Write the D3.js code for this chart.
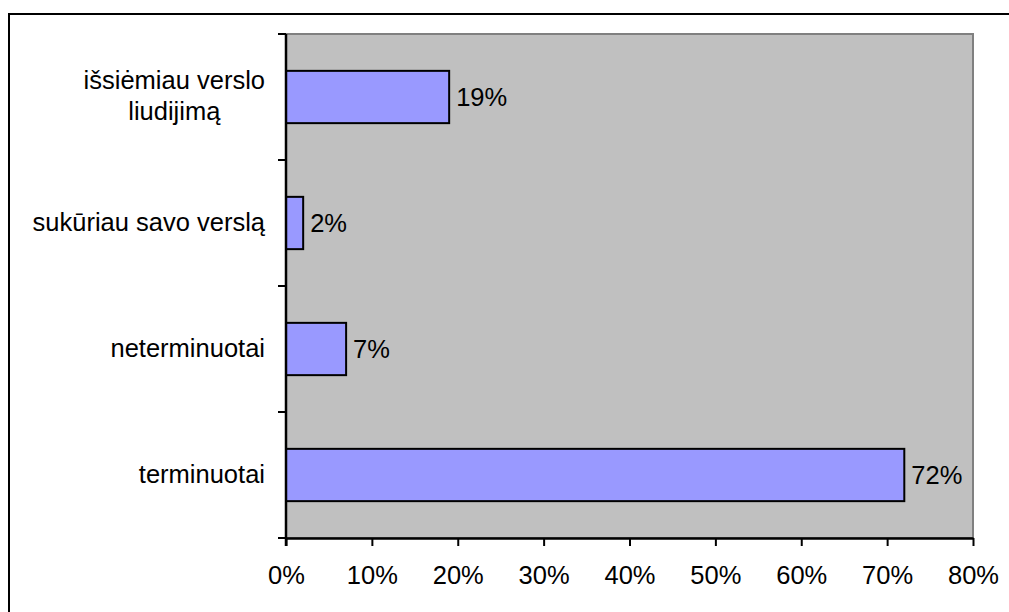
<!DOCTYPE html>
<html>
<head>
<meta charset="utf-8">
<script src="https://cdn.jsdelivr.net/npm/d3@7"></script>
<style>
  html, body { margin: 0; padding: 0; background: #fff; }
  svg { display: block; }
  text { font-family: "Liberation Sans", Arial, sans-serif; fill: #000; }
</style>
</head>
<body>
<svg id="chart" width="1009" height="612"></svg>
<script>
const categories = ["išsiėmiau verslo liudijimą", "sukūriau savo verslą", "neterminuotai", "terminuotai"];
const categoryLines = [["išsiėmiau verslo", "liudijimą"], ["sukūriau savo verslą"], ["neterminuotai"], ["terminuotai"]];
const values = [0.19, 0.02, 0.07, 0.72];
const valueLabels = ["19%", "2%", "7%", "72%"];
const xTicks = [0, 0.1, 0.2, 0.3, 0.4, 0.5, 0.6, 0.7, 0.8];

const svg = d3.select("#chart");
const W = 1009, H = 612;
const plot = { left: 286, right: 973, top: 34, bottom: 538 };
const fontSize = 25.5;

// outer chart border
svg.append("rect")
  .attr("x", 9).attr("y", 14)
  .attr("width", W + 10).attr("height", H + 10)
  .attr("fill", "#fff").attr("stroke", "#000").attr("stroke-width", 2);

const x = d3.scaleLinear().domain([0, 0.8]).range([plot.left, plot.right]);
const y = d3.scaleBand().domain(categories).range([plot.top, plot.bottom])
  .paddingInner(0.585).paddingOuter(0.2925);

// plot area
svg.append("rect")
  .attr("x", plot.left).attr("y", plot.top)
  .attr("width", plot.right - plot.left).attr("height", plot.bottom - plot.top)
  .attr("fill", "#C0C0C0").attr("stroke", "#808080").attr("stroke-width", 2);

// bars
svg.append("g").selectAll("rect").data(values).join("rect")
  .attr("x", x(0))
  .attr("y", (d, i) => y(categories[i]))
  .attr("width", d => x(d) - x(0))
  .attr("height", y.bandwidth())
  .attr("fill", "#9999FF")
  .attr("stroke", "#000").attr("stroke-width", 2);

// value labels
svg.append("g").selectAll("text").data(values).join("text")
  .attr("x", d => x(d) + 7)
  .attr("y", (d, i) => y(categories[i]) + y.bandwidth() / 2)
  .attr("dy", "0.35em")
  .attr("font-size", fontSize)
  .text((d, i) => valueLabels[i]);

// x axis
const xAxis = d3.axisBottom(x).tickValues(xTicks).tickFormat(d3.format(".0%"))
  .tickSize(8).tickSizeOuter(0).tickPadding(20);
const gx = svg.append("g").attr("transform", `translate(0,${plot.bottom})`).call(xAxis);
gx.select(".domain").attr("stroke", "#000").attr("stroke-width", 2.5);
gx.selectAll(".tick line").attr("stroke", "#000").attr("stroke-width", 2);
gx.selectAll(".tick text").attr("font-size", fontSize)
  .attr("font-family", '"Liberation Sans", Arial, sans-serif').attr("fill", "#000");

// y axis: line + ticks at band boundaries
const yAxisG = svg.append("g");
yAxisG.append("line")
  .attr("x1", plot.left).attr("x2", plot.left)
  .attr("y1", plot.top).attr("y2", plot.bottom + 8)
  .attr("stroke", "#000").attr("stroke-width", 2.5);
const boundaries = d3.range(categories.length + 1).map(i => plot.top + i * (plot.bottom - plot.top) / categories.length);
yAxisG.selectAll("line.t").data(boundaries).join("line").attr("class", "t")
  .attr("x1", plot.left - 8).attr("x2", plot.left)
  .attr("y1", d => d).attr("y2", d => d)
  .attr("stroke", "#000").attr("stroke-width", 2);

// category labels
const labelRight = 265;
const lineH = 31;
categoryLines.forEach((lines, i) => {
  const cy = y(categories[i]) + y.bandwidth() / 2;
  const g = svg.append("g");
  const texts = lines.map((ln, j) => g.append("text")
    .attr("font-size", fontSize)
    .attr("y", cy - 1 + (j - (lines.length - 1) / 2) * lineH)
    .attr("dy", "0.35em")
    .text(ln));
  if (lines.length === 1) {
    texts[0].attr("x", labelRight).attr("text-anchor", "end");
  } else {
    const maxW = d3.max(texts, t => t.node().getComputedTextLength());
    const cx = labelRight - maxW / 2;
    texts.forEach(t => t.attr("x", cx).attr("text-anchor", "middle"));
  }
});
</script>
</body>
</html>
